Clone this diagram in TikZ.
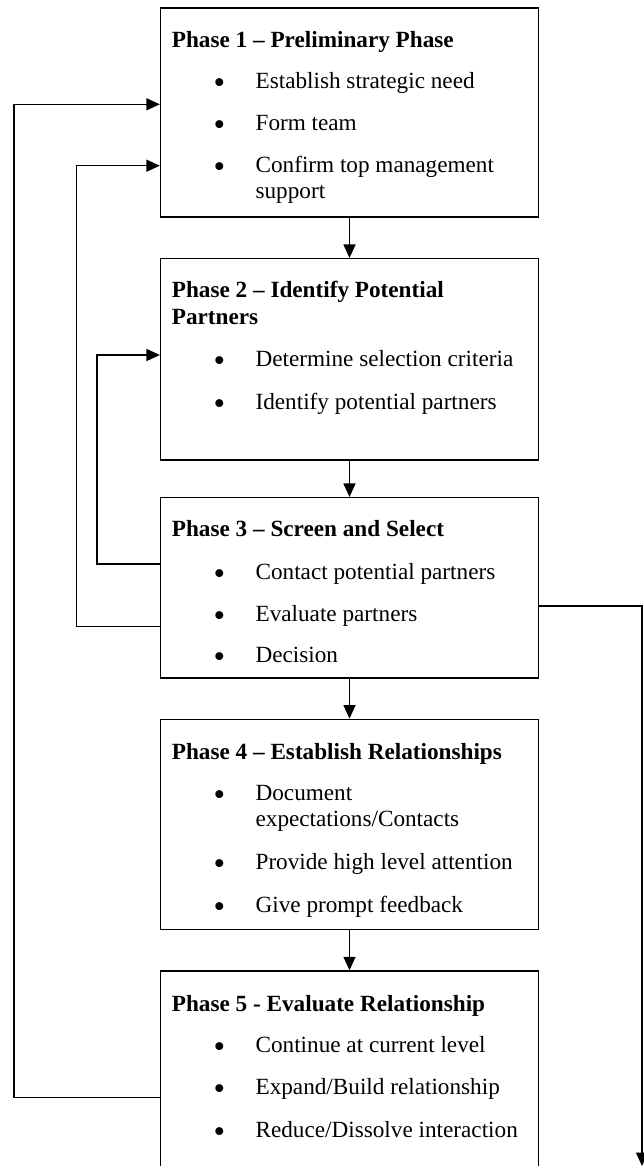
\documentclass[tikz,border=0pt]{standalone}
\usepackage{fontspec}
\setmainfont{Liberation Serif}
\usetikzlibrary{arrows.meta}
\begin{document}
\begin{tikzpicture}[x=1pt,y=-1pt,
  phase/.style={draw=black, line width=1.5pt, fill=white, minimum width=377.8pt, inner sep=0pt},
  flow/.style={line width=1.5pt, -{Triangle[length=13.5pt,width=12pt]}},
  title/.style={anchor=base west, inner sep=0pt, font=\fontsize{23.2}{27}\selectfont\bfseries},
  dot/.style={anchor=base, inner sep=0pt, yshift=-5pt, font=\fontsize{33}{34}\selectfont},
  entry/.style={anchor=base west, inner sep=0pt, font=\fontsize{23.2}{27}\selectfont}]
\useasboundingbox (0,0) rectangle (644,1166);

% phase boxes
\node[phase, minimum height=209pt]   (p1) at (349.5,112.5)  {};
\node[phase, minimum height=201.3pt] (p2) at (349.5,359.35) {};
\node[phase, minimum height=180.3pt] (p3) at (349.5,587.85) {};
\node[phase, minimum height=210pt]   (p4) at (349.5,824.3)  {};
\node[phase, minimum height=203pt]   (p5) at (349.5,1072.5) {};

% phase 1
\node[title] (t1) at (171.7,47.7) {Phase 1 – Preliminary Phase};
\node[dot] (d1a) at (219.5,88.3) {•};
\node[entry] (e1a) at (255.4,88.3) {Establish strategic need};
\node[dot] (d1b) at (219.5,130.7) {•};
\node[entry] (e1b) at (255.4,130.7) {Form team};
\node[dot] (d1c) at (219.5,172.3) {•};
\node[entry] (e1c) at (255.4,172.3) {Confirm top management};
\node[entry] (e1d) at (255.4,199) {support};

% phase 2
\node[title] (t2a) at (171.7,297.3) {Phase 2 – Identify Potential};
\node[title] (t2b) at (171.7,324) {Partners};
\node[dot] (d2a) at (219.5,366) {•};
\node[entry] (e2a) at (255.4,366) {Determine selection criteria};
\node[dot] (d2b) at (219.5,409) {•};
\node[entry] (e2b) at (255.4,409) {Identify potential partners};

% phase 3
\node[title] (t3) at (171.7,536) {Phase 3 – Screen and Select};
\node[dot] (d3a) at (219.5,579) {•};
\node[entry] (e3a) at (255.4,579) {Contact potential partners};
\node[dot] (d3b) at (219.5,621.7) {•};
\node[entry] (e3b) at (255.4,621.7) {Evaluate partners};
\node[dot] (d3c) at (219.5,662.7) {•};
\node[entry] (e3c) at (255.4,662.7) {Decision};

% phase 4
\node[title] (t4) at (171.7,759.3) {Phase 4 – Establish Relationships};
\node[dot] (d4a) at (219.5,800) {•};
\node[entry] (e4a) at (255.4,800) {Document};
\node[entry] (e4b) at (255.4,826.7) {expectations/Contacts};
\node[dot] (d4c) at (219.5,869.3) {•};
\node[entry] (e4c) at (255.4,869.3) {Provide high level attention};
\node[dot] (d4d) at (219.5,912.7) {•};
\node[entry] (e4d) at (255.4,912.7) {Give prompt feedback};

% phase 5
\node[title] (t5) at (171.7,1011) {Phase 5 - Evaluate Relationship};
\node[dot] (d5a) at (219.5,1052.3) {•};
\node[entry] (e5a) at (255.4,1052.3) {Continue at current level};
\node[dot] (d5b) at (219.5,1094.3) {•};
\node[entry] (e5b) at (255.4,1094.3) {Expand/Build relationship};
\node[dot] (d5c) at (219.5,1137.3) {•};
\node[entry] (e5c) at (255.4,1137.3) {Reduce/Dissolve interaction};

% main sequence
\draw[flow] (p1.south) -- (p2.north);
\draw[flow] (p2.south) -- (p3.north);
\draw[flow] (p3.south) -- (p4.north);
\draw[flow] (p4.south) -- (p5.north);

% feedback loops
\draw[flow] ([yshift=-25.2pt]p5.west) -- ++(-145.8,0) |- ([yshift=8.2pt]p1.west);
\draw[flow] ([yshift=-38.85pt]p3.west) -- ++(-83.4,0) |- ([yshift=-53.2pt]p1.west);
\draw[flow] ([yshift=23.85pt]p3.west) -- ++(-62.9,0) |- ([yshift=4.35pt]p2.west);

% exit
\coordinate (exit) at (642,1166);
\draw[flow] ([yshift=-18.15pt]p3.east) -| (exit);
\end{tikzpicture}
\end{document}
